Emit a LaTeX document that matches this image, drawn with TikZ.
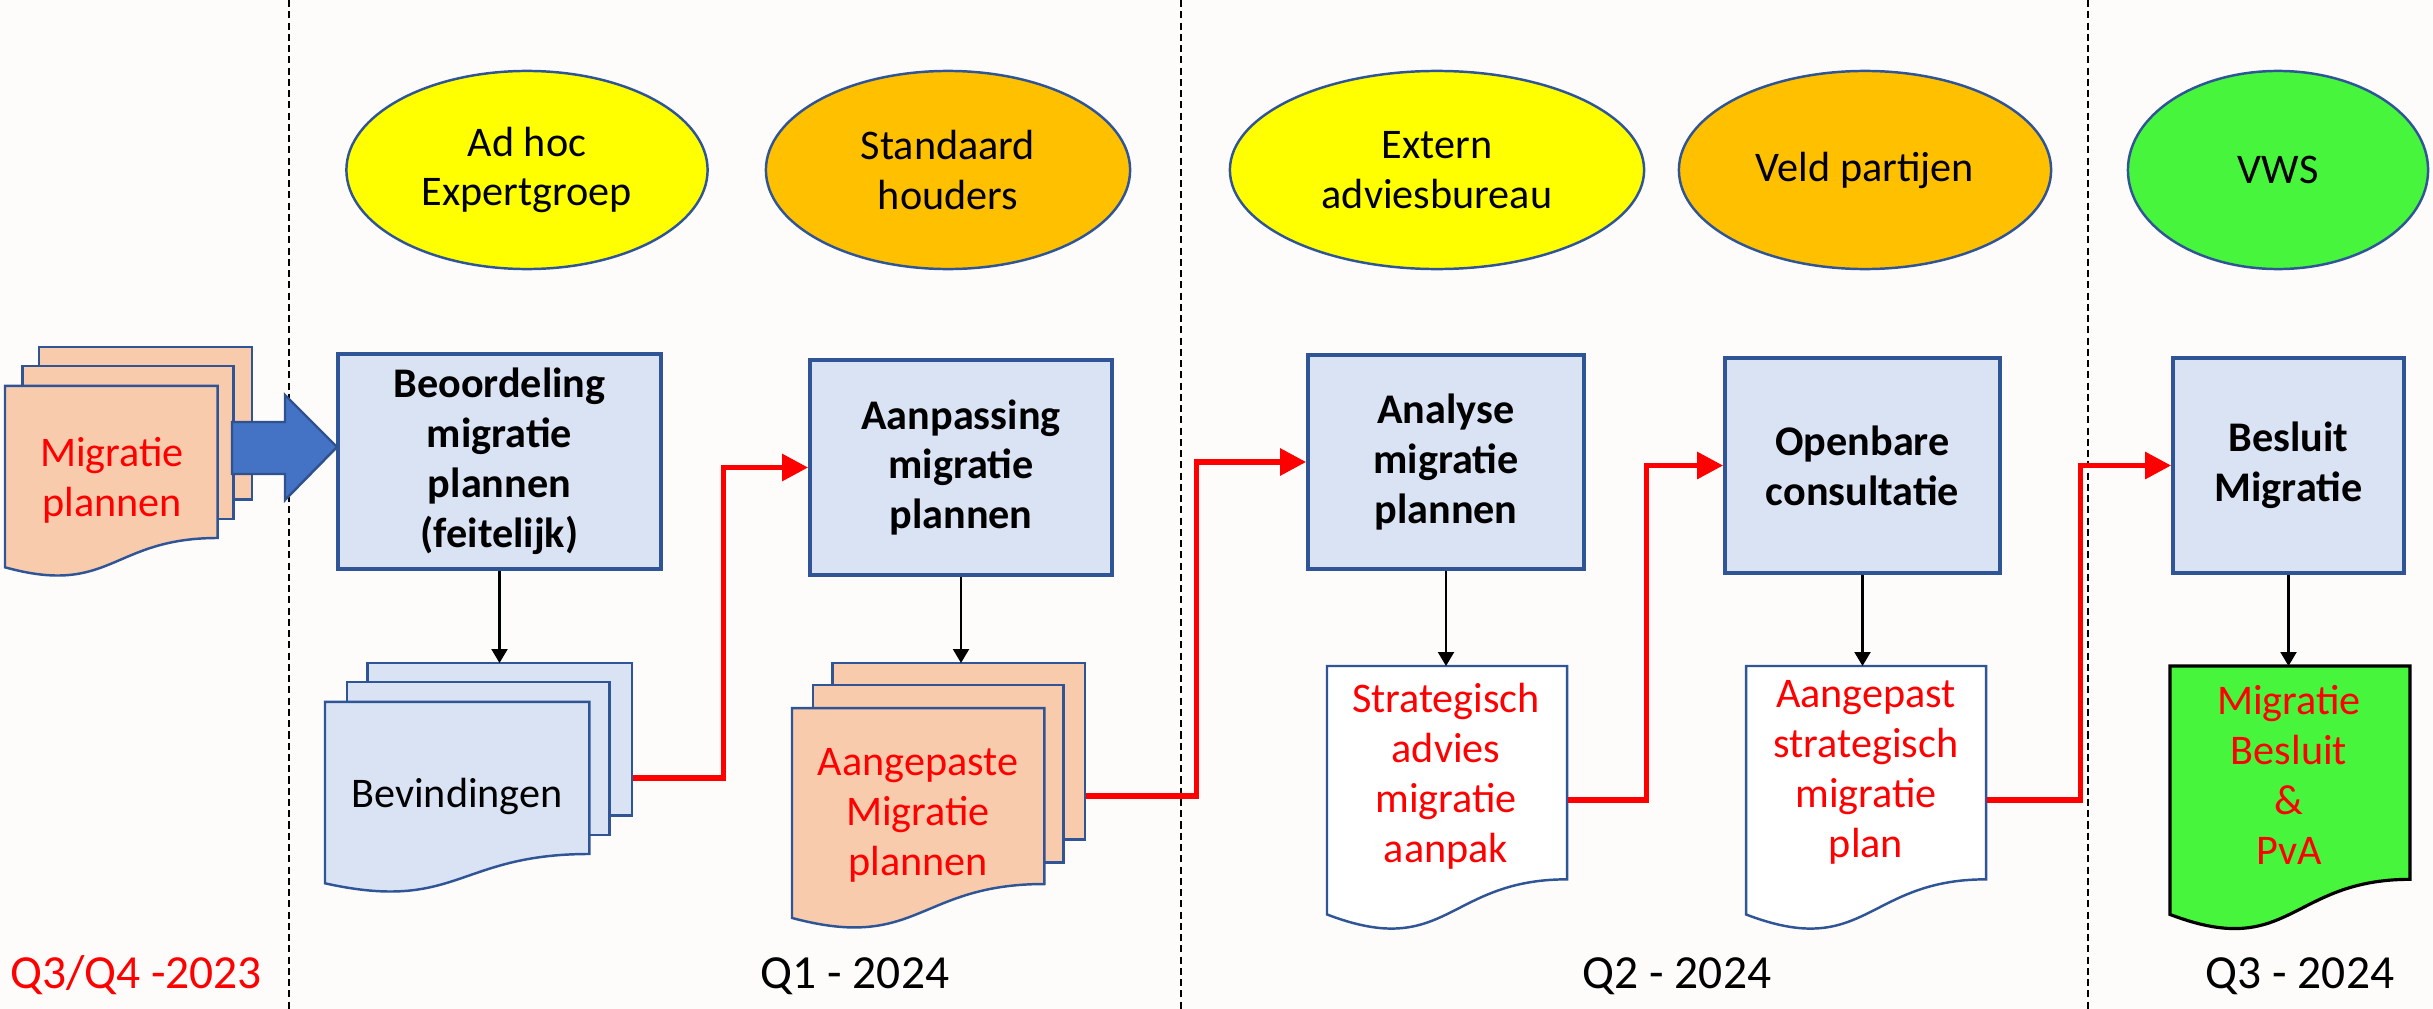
\documentclass[tikz,border=0pt]{standalone}
\usepackage{fontspec}
\setmainfont{Carlito}
\usetikzlibrary{arrows.meta,shapes.geometric}

\definecolor{paper}{RGB}{253,252,251}
\definecolor{boxblue}{RGB}{218,227,243}
\definecolor{lineblue}{RGB}{47,85,151}
\definecolor{docorange}{RGB}{248,203,173}
\definecolor{hiyellow}{RGB}{255,255,0}
\definecolor{hiorange}{RGB}{255,192,0}
\definecolor{higreen}{RGB}{70,245,60}
\definecolor{arrowblue}{RGB}{68,114,196}
\definecolor{arrowedge}{RGB}{47,82,143}

\tikzset{
  phase/.style={draw=black, line width=0.5pt, dash pattern=on 2pt off 1.2pt},
  actor/.style={ellipse, draw=lineblue, line width=0.7pt, minimum height=1.98cm, align=center, inner sep=0pt, font=\fontsize{12}{14.2}\selectfont},
  task/.style={rectangle, draw=lineblue, line width=1pt, fill=boxblue, minimum height=2.15cm, align=center, font=\fontsize{12}{14.2}\selectfont\bfseries},
  doctext/.style={align=center, text=red, font=\fontsize{12}{14.2}\selectfont},
  feed/.style={draw=black, line width=0.6pt, -{Triangle[length=1.4mm,width=1.6mm]}},
  handoff/.style={draw=red, line width=1.6pt, -{Triangle[length=2.6mm,width=2.6mm]}},
  fatarrow/.style={draw=arrowedge, line width=0.7pt, fill=arrowblue},
  when/.style={anchor=base, font=\fontsize{13.5}{16}\selectfont}
}

% single document: style, name, x, y, width, height (in px)
\newcommand{\onedoc}[6]{%
  \node[inner sep=0pt, minimum width={0.01cm*#5}, minimum height={0.01cm*#6}, anchor=north west] (#2) at (#3,#4) {};
  \draw[#1] (#3,#4) -- ({#3+#5},#4) -- ({#3+#5},{#4+0.802*#6})
    .. controls ({#3+0.5*#5},{#4+0.802*#6}) and ({#3+0.5*#5},{#4+1.107*#6}) .. (#3,{#4+0.934*#6}) -- cycle;
}

% stack of documents: style, name, x, y, width, height (in px)
\newcommand{\manydoc}[6]{%
  \node[inner sep=0pt, minimum width={0.01cm*#5}, minimum height={0.01cm*#6}, anchor=north west] (#2) at (#3,#4) {};
  \draw[#1] ({#3+0.138*#5},#4) rectangle ({#3+#5},{#4+0.666*#6});
  \draw[#1] ({#3+0.071*#5},{#4+0.084*#6}) rectangle ({#3+0.926*#5},{#4+0.752*#6});
  \draw[#1] (#3,{#4+0.170*#6}) -- ({#3+0.861*#5},{#4+0.170*#6}) -- ({#3+0.861*#5},{#4+0.834*#6})
    .. controls ({#3+0.430*#5},{#4+0.834*#6}) and ({#3+0.430*#5},{#4+1.090*#6}) .. (#3,{#4+0.962*#6}) -- cycle;
}

\begin{document}
\begin{tikzpicture}[x=0.01cm, y=-0.01cm]
% the page
\fill[paper] (0,0) rectangle (2433,1009);
\useasboundingbox (0,0) rectangle (2433,1009);

% quarter separators
\foreach \x in {289,1181,2088}
{
  \draw[phase] (\x,0) -- (\x,1009);
}

% who does the work
\node[actor, fill=hiyellow, minimum width=3.61cm] (e1) at (527,170) {Ad hoc\\Expertgroep};
\node[actor, fill=hiorange, minimum width=3.64cm] (e2) at (948,170) {Standaard\\houders};
\node[actor, fill=hiyellow, minimum width=4.14cm] (e3) at (1437,170) {Extern\\adviesbureau};
\node[actor, fill=hiorange, minimum width=3.72cm] (e4) at (1865,170) {Veld partijen};
\node[actor, fill=higreen, minimum width=3.00cm] (e5) at (2278,170) {VWS};

% the steps
\node[task, minimum width=3.23cm] (b1) at (499.5,461.5) {Beoordeling\\migratie\\plannen\\(feitelijk)};
\node[task, minimum width=3.02cm] (b2) at (961,467.5) {Aanpassing\\migratie\\plannen};
\node[task, minimum width=2.76cm, minimum height=2.14cm] (b3) at (1446,462) {Analyse\\migratie\\plannen};
\node[task, minimum width=2.75cm] (b4) at (1862.5,465.5) {Openbare\\consultatie};
\node[task, minimum width=2.31cm] (b5) at (2288.5,465.5) {Besluit\\Migratie};

% the documents
\manydoc{draw=lineblue, line width=0.7pt, fill=docorange}{d1}{5}{347}{247}{229}
\manydoc{draw=lineblue, line width=0.7pt, fill=boxblue}{d2}{325}{663}{307}{229}
\manydoc{draw=lineblue, line width=0.7pt, fill=docorange}{d3}{792}{663}{293}{265}
\onedoc{draw=lineblue, line width=0.7pt, fill=white}{d4}{1327}{666}{240}{266}
\onedoc{draw=lineblue, line width=0.7pt, fill=white}{d5}{1746}{666}{240}{266}
\onedoc{draw=black, line width=0.9pt, fill=higreen}{d6}{2170}{666}{240}{266}

\node[doctext] (t1) at (112,480) {Migratie\\plannen};
\node[doctext, text=black] (t2) at (457,796) {Bevindingen};
\node[doctext] (t3) at (918,815) {Aangepaste\\Migratie\\plannen};
\node[doctext] (t4) at (1446,776) {Strategisch\\advies\\migratie\\aanpak};
\node[doctext] (t5) at (1866,772) {Aangepast\\strategisch\\migratie\\plan};
\node[doctext] (t6) at (2289,775) {Migratie\\Besluit\\\&\\PvA};

% input goes in
\draw[fatarrow] (232,422) -- (285,422) -- (285,395) -- (337,447) -- (285,500) -- (285,474) -- (232,474) -- cycle;

% each step gives a document
\draw[feed] (b1.south) -- (b1.south |- d2.north);
\draw[feed] (b2.south) -- (b2.south |- d3.north);
\draw[feed] (b3.south) -- (b3.south |- d4.north);
\draw[feed] (b4.south) -- (b4.south |- d5.north);
\draw[feed] (b5.south) -- (b5.south |- d6.north);

% and the document feeds the next step
\draw[handoff] (d2.east) -- ++(90,0) |- (b2.west);
\draw[handoff] (d3.east) -- ++(110,0) |- (b3.west);
\draw[handoff] (d4.east) -- ++(78,0) |- (b4.west);
\draw[handoff] (d5.east) -- ++(93,0) |- (b5.west);

% quarters
\node[when, text=red] (q0) at (136,988) {Q3/Q4 -2023};
\node[when] (q1) at (855,988) {Q1 - 2024};
\node[when] (q2) at (1677,988) {Q2 - 2024};
\node[when] (q3) at (2300,988) {Q3 - 2024};

\end{tikzpicture}
\end{document}
